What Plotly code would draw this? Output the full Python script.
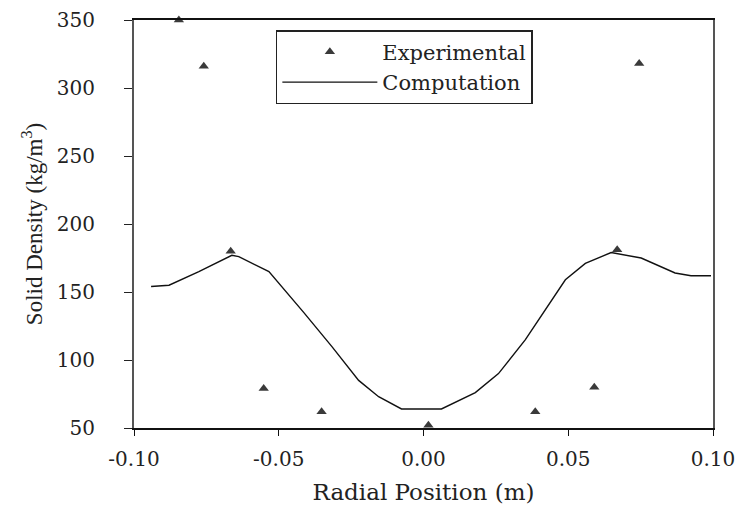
import plotly.graph_objects as go

# Experimental data
exp_x = [-0.0845, -0.0759, -0.0666, -0.0552, -0.0352, 0.0017, 0.0386, 0.0590, 0.0669, 0.0745, 0.0824]
exp_y = [350, 316, 180, 79, 62, 52, 62, 80, 181, 318, 351]

# Computation curve
comp_x = [-0.0941, -0.0879, -0.0776, -0.0662, -0.0638, -0.0534, -0.0414, -0.0317, -0.0224,
          -0.0155, -0.0076, 0.0062, 0.0179, 0.0259, 0.0352, 0.0421, 0.0490, 0.0559, 0.0648,
          0.0752, 0.0869, 0.0924, 0.0993]
comp_y = [154, 155, 165, 177, 176, 165, 135, 110, 85,
          73, 64, 64, 76, 90, 115, 137, 159, 171, 179,
          175, 164, 162, 162]

x_ticks = [-0.10, -0.05, 0.00, 0.05, 0.10]
x_tick_labels = ["-0.10", "-0.05", "0.00", "0.05", "0.10"]
y_ticks = [50, 100, 150, 200, 250, 300, 350]

wide_serif = "DejaVu Serif, serif"
narrow_serif = "Liberation Serif, Times New Roman, serif"

fig = go.Figure()
fig.add_trace(go.Scatter(
    x=exp_x, y=exp_y, mode="markers", name="Experimental",
    marker=dict(symbol="triangle-up", size=9, color="#3a3a3a"),
    cliponaxis=False,
))
fig.add_trace(go.Scatter(
    x=comp_x, y=comp_y, mode="lines", name="Computation",
    line=dict(color="#111111", width=1.4),
))

fig.update_layout(
    width=737, height=501,
    margin=dict(l=126, r=32, t=12, b=81),
    paper_bgcolor="white", plot_bgcolor="white",
    font=dict(family=wide_serif, color="#222222", size=18),
    showlegend=True,
    legend=dict(
        x=0.245, y=0.975, xanchor="left", yanchor="top",
        bordercolor="#222222", borderwidth=1.5, bgcolor="white",
        font=dict(family=wide_serif, size=21, color="#222222"),
        itemwidth=95, tracegroupgap=0,
    ),
    xaxis=dict(
        range=[-0.10, 0.10], tickvals=x_ticks, ticktext=x_tick_labels,
        showgrid=False, zeroline=False, automargin=False,
        showline=True, linecolor="#111111", linewidth=1.5, mirror=True,
        ticks="outside", ticklen=6, tickcolor="#111111",
        ticklabelstandoff=6,
        tickfont=dict(family=wide_serif, size=20),
        title=dict(text="Radial Position (m)", font=dict(family=wide_serif, size=23), standoff=14),
    ),
    yaxis=dict(
        range=[50, 350], tickvals=y_ticks,
        showgrid=False, zeroline=False, automargin=False,
        showline=True, linecolor="#555555", linewidth=2, mirror=True,
        ticks="outside", ticklen=8, tickcolor="#222222",
        ticklabelstandoff=25,
        tickfont=dict(family=wide_serif, size=20),
        title=dict(text="Solid Density (kg/m<sup>3</sup>)", font=dict(family=narrow_serif, size=23), standoff=8),
    ),
)

fig.write_html("out.html")
